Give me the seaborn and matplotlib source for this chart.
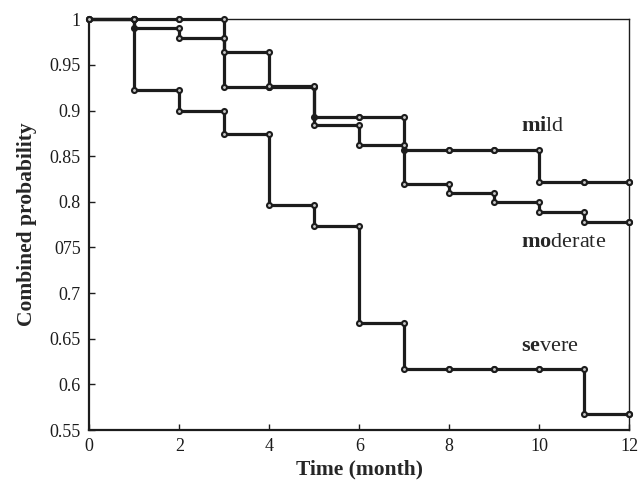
import numpy as np
import pandas as pd
import matplotlib
matplotlib.use("Agg")
import matplotlib.pyplot as plt
import seaborn as sns

months = list(range(13))
mild = [1.0, 1.0, 1.0, 0.926, 0.926, 0.893, 0.893, 0.857, 0.857, 0.857, 0.822, 0.822, 0.822]
moderate = [1.0, 0.990, 0.980, 0.964, 0.927, 0.884, 0.862, 0.819, 0.810, 0.800, 0.789, 0.778, 0.778]
severe = [1.0, 0.923, 0.900, 0.874, 0.797, 0.774, 0.667, 0.617, 0.617, 0.617, 0.617, 0.568, 0.568]
groups = ["mild", "moderate", "severe"]
xticks = [0, 2, 4, 6, 8, 10, 12]
yticks = [0.55, 0.6, 0.65, 0.7, 0.75, 0.8, 0.85, 0.9, 0.95, 1.0]
ytick_labels = ["0.55", "0.6", "0.65", "0.7", "075", "0.8", "0.85", "0.9", "0.95", "1"]

# Build step-curve points (value before and after each monthly change)
rows = []
for name, vals in zip(groups, [mild, moderate, severe]):
    rows.append((name, months[0], vals[0]))
    for i in range(1, len(months)):
        rows.append((name, months[i], vals[i - 1]))
        rows.append((name, months[i], vals[i]))
df = pd.DataFrame(rows, columns=["group", "month", "prob"])

sns.set_style("ticks")
plt.rcParams["font.family"] = ["Liberation Serif", "DejaVu Serif"]
plt.rcParams["mathtext.fontset"] = "custom"
plt.rcParams["mathtext.rm"] = "Liberation Serif"
plt.rcParams["mathtext.bf"] = "Liberation Serif:bold"
plt.rcParams["mathtext.it"] = "Liberation Serif:italic"

fig = plt.figure(figsize=(6.4, 4.87), dpi=100)
ax = fig.add_axes([0.1395, 0.117, 0.8438, 0.8434])

sns.lineplot(data=df, x="month", y="prob", hue="group", estimator=None, sort=False,
             palette=["#1c1c1c"] * 3, legend=False, ax=ax, linewidth=2.3,
             marker="o", markersize=3.6, markeredgewidth=1.5,
             markerfacecolor="#c8c8c8", markeredgecolor="#1c1c1c", clip_on=False, zorder=3)

ax.set_xlim(0, 12)
ax.set_ylim(0.55, 1.0)
ax.set_xticks(xticks)
ax.set_xticklabels([str(t) for t in xticks])
ax.set_yticks(yticks)
ax.set_yticklabels(ytick_labels)
ax.tick_params(direction="in", length=4, width=1.0, labelsize=13, colors="#1c1c1c",
               top=False, right=False)
ax.tick_params(axis="x", pad=6)
ax.tick_params(axis="y", pad=6)

for s in ["left", "bottom"]:
    ax.spines[s].set_linewidth(1.6)
    ax.spines[s].set_color("#1c1c1c")
for s in ["top", "right"]:
    ax.spines[s].set_linewidth(1.0)
    ax.spines[s].set_color("#1c1c1c")
    ax.spines[s].set_visible(True)

ax.set_xlabel("Time (month)", fontsize=15.5, fontweight="bold", labelpad=3)
ax.set_ylabel("Combined probability", fontsize=15.5, fontweight="bold", labelpad=9)

ax.text(9.59, 0.882, r"$\mathbf{mi}$ld", fontsize=16, ha="left", va="center")
ax.text(9.59, 0.755, r"$\mathbf{mo}$derate", fontsize=16, ha="left", va="center")
ax.text(9.59, 0.641, r"$\mathbf{se}$vere", fontsize=16, ha="left", va="center")

fig.savefig("out.png", dpi=100)
